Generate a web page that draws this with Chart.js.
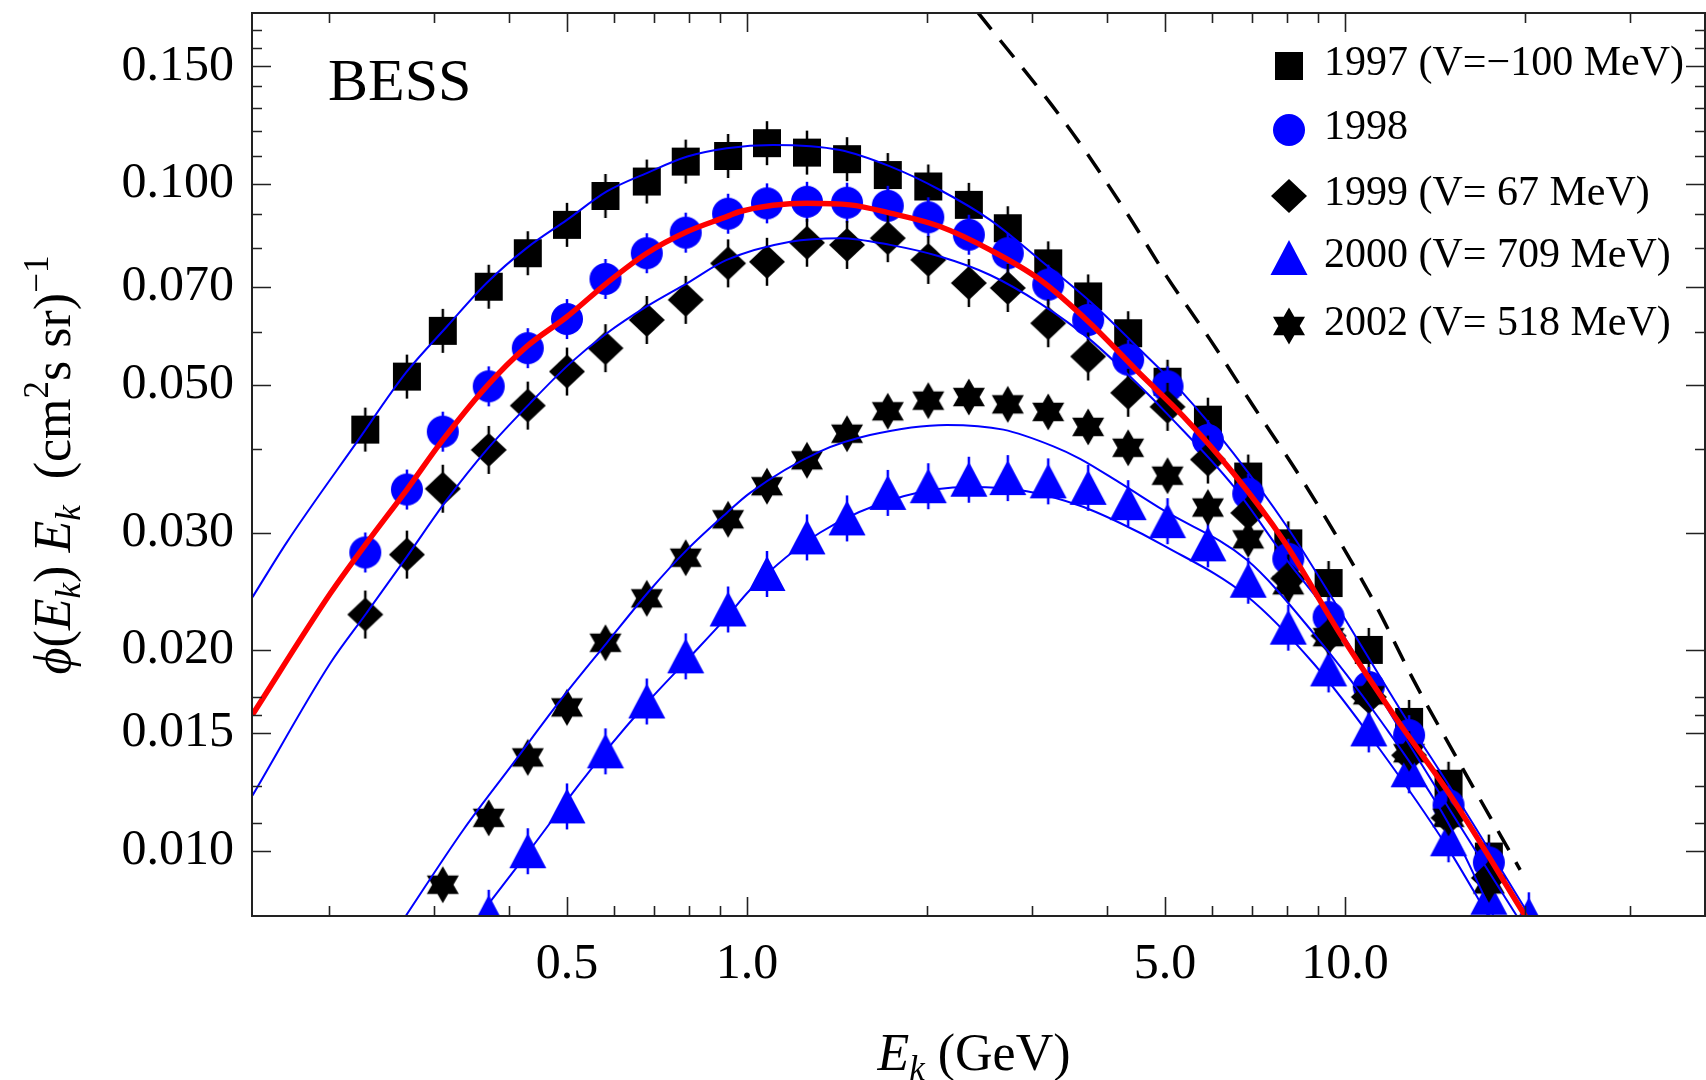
<!DOCTYPE html>
<html>
<head>
<meta charset="utf-8">
<script src="https://cdn.jsdelivr.net/npm/chart.js@4.4.1/dist/chart.umd.min.js"></script>
<style>
  html, body { margin: 0; padding: 0; background: #fff; overflow: hidden; }
  #wrap { width: 1706px; height: 1080px; position: relative; }
  #chart { display: block; }
</style>
</head>
<body>
<div id="wrap"><canvas id="chart"></canvas></div>
<script>
// BESS energy bins (GeV) and measured fluxes, null where a year has no point
const energy = [0.23, 0.27, 0.31, 0.37, 0.43, 0.50, 0.58, 0.68, 0.79, 0.93, 1.08, 1.26, 1.47, 1.72, 2.01,
  2.35, 2.73, 3.19, 3.72, 4.34, 5.05, 5.90, 6.89, 8.04, 9.39, 10.96, 12.8, 14.9, 17.4, 20.3];
const flux1997 = [0.0428, 0.0514, 0.0602, 0.0701, 0.0787, 0.0868, 0.0959, 0.1008, 0.1080, 0.1101, 0.1151, 0.1114,
  0.1089, 0.1031, 0.0991, 0.0930, 0.0858, 0.0760, 0.0678, 0.0597, 0.0505, 0.0443, 0.0364, 0.0289, 0.0252,
  0.0200, 0.0156, 0.0126, 0.0098, null];
const flux1998 = [0.0280, 0.0348, 0.0425, 0.0497, 0.0567, 0.0627, 0.0720, 0.0787, 0.0845, 0.0902, 0.0935, 0.0940,
  0.0937, 0.0927, 0.0891, 0.0839, 0.0787, 0.0706, 0.0625, 0.0545, 0.0497, 0.0413, 0.0343, 0.0274, 0.0224,
  0.0176, 0.0149, 0.0117, 0.0096, null];
const flux1999 = [0.0226, 0.0278, 0.0349, 0.0399, 0.0465, 0.0523, 0.0567, 0.0625, 0.0670, 0.0760, 0.0764, 0.0816,
  0.0810, 0.0829, 0.0769, 0.0710, 0.0698, 0.0618, 0.0551, 0.0486, 0.0463, 0.0386, 0.0321, 0.0256, 0.0210,
  0.0170, 0.0139, 0.0112, 0.0091, null];
const flux2000 = [null, null, null, 0.00807, 0.00998, 0.01165, 0.01409, 0.01674, 0.01956, 0.0230, 0.0260, 0.0295,
  0.0315, 0.0344, 0.0352, 0.0360, 0.0362, 0.0358, 0.0350, 0.0332, 0.0312, 0.0288, 0.0254, 0.0216, 0.0187,
  0.0152, 0.0132, 0.0104, 0.0085, 0.0080];
const flux2002 = [null, null, 0.00889, 0.0112, 0.0138, 0.0164, 0.0205, 0.0239, 0.0275, 0.0314, 0.0352, 0.0385,
  0.0422, 0.0456, 0.0473, 0.0479, 0.0467, 0.0455, 0.0432, 0.0402, 0.0365, 0.0327, 0.0293, 0.0250, 0.0209,
  0.0171, 0.0140, 0.0112, 0.0089, null];

// fitted curves
const fit1997E = [0.149, 0.170, 0.224, 0.269, 0.315, 0.367, 0.428, 0.500, 0.583, 0.680, 0.795, 0.925, 1.105, 1.431,
  1.735, 2.103, 2.550, 3.091, 3.748, 4.543, 5.30, 6.50, 8.00, 9.55, 12.36, 15.57, 20.5];
const fit1997 = [0.0240, 0.0290, 0.0413, 0.0521, 0.0611, 0.0710, 0.0801, 0.0883, 0.0974, 0.1038, 0.1099, 0.1131,
  0.1144, 0.1124, 0.1062, 0.0979, 0.0883, 0.0769, 0.0666, 0.0564, 0.0491, 0.0395, 0.0306, 0.0238, 0.0163,
  0.0118, 0.0079];
const fit1998E = [0.149, 0.201, 0.231, 0.270, 0.310, 0.367, 0.428, 0.500, 0.583, 0.680, 0.795, 0.925, 0.974, 1.259,
  1.487, 1.735, 2.103, 2.550, 3.091, 3.748, 4.543, 5.367, 6.508, 7.889, 9.86, 12.17, 15.01, 20.16];
const fit1998 = [0.0160, 0.0243, 0.0289, 0.0348, 0.0413, 0.0497, 0.0570, 0.0632, 0.0710, 0.0787, 0.0848, 0.0893,
  0.0909, 0.0935, 0.0930, 0.0904, 0.0863, 0.0796, 0.0718, 0.0618, 0.0519, 0.0448, 0.0368, 0.0292, 0.0210,
  0.0158, 0.0121, 0.0079];
const fit1999E = [0.149, 0.201, 0.231, 0.270, 0.315, 0.367, 0.434, 0.506, 0.583, 0.680, 0.795, 0.925, 1.181, 1.431,
  1.735, 2.103, 2.550, 3.091, 3.748, 4.543, 5.03, 6.508, 7.99, 9.55, 12.36, 14.99, 19.52];
const fit1999 = [0.0121, 0.0191, 0.0227, 0.0276, 0.0336, 0.0399, 0.0469, 0.0538, 0.0597, 0.0655, 0.0710, 0.0769,
  0.0819, 0.0829, 0.0810, 0.0778, 0.0730, 0.0662, 0.0584, 0.0497, 0.0453, 0.0352, 0.0273, 0.0222, 0.0152,
  0.0115, 0.0079];
const fit2000E = [0.3537, 0.4338, 0.5059, 0.583, 0.680, 0.795, 0.925, 1.012, 1.326, 1.826, 2.361, 2.937, 3.606,
  4.206, 4.970, 6.851, 8.855, 11.45, 14.80, 17.48];
const fit2000 = [0.0079, 0.01003, 0.01206, 0.01417, 0.01665, 0.01934, 0.0224, 0.0246, 0.0300, 0.0340, 0.0351,
  0.0346, 0.0329, 0.0310, 0.0287, 0.0241, 0.0191, 0.01417, 0.01015, 0.0079];
const fit2002E = [0.2668, 0.3356, 0.4068, 0.4932, 0.583, 0.6887, 0.795, 0.925, 1.012, 1.326, 1.606, 2.159, 2.684,
  3.254, 3.606, 4.206, 4.970, 6.851, 8.855, 11.45, 14.80, 17.82];
const fit2002 = [0.0079, 0.01075, 0.01353, 0.01703, 0.0205, 0.0246, 0.0283, 0.0321, 0.0344, 0.0397, 0.0420, 0.0435,
  0.0428, 0.0404, 0.0387, 0.0356, 0.0324, 0.0273, 0.0212, 0.0157, 0.0111, 0.0079];
const dashE = [2.43, 3.447, 4.317, 5.035, 5.950, 7.029, 8.41, 10.07, 11.30, 13.01, 15.78, 19.63];
const dashFlux = [0.181, 0.1216, 0.0904, 0.0726, 0.0584, 0.0464, 0.0364, 0.0279, 0.0232, 0.01805, 0.01322, 0.00936];

const legendLabels = ['1997 (V=\u2212100 MeV)', '1998', '1999 (V= 67 MeV)', '2000 (V= 709 MeV)', '2002 (V= 518 MeV)'];
const xMajor = [0.5, 1, 5, 10];
const xMinor = [0.2, 0.3, 0.4, 0.6, 0.7, 0.8, 0.9, 2, 3, 4, 6, 7, 8, 9, 20, 30];
const yMajor = [0.01, 0.015, 0.02, 0.03, 0.05, 0.07, 0.1, 0.15];
const yMinor = [0.011, 0.0125, 0.016, 0.017, 0.04, 0.06, 0.08, 0.09, 0.11, 0.12, 0.13, 0.14, 0.16, 0.17];

const BLUE = '#0000ff';
const SERIF = '"Liberation Serif", "Times New Roman", serif';

// marker glyphs, with a short vertical error stroke when bar > 0
function marker(shape, color, bar) {
  const c = document.createElement('canvas');
  c.width = 44; c.height = 56;
  const g = c.getContext('2d');
  const cx = 22, cy = 28;
  g.fillStyle = color;
  g.beginPath();
  if (shape === 'square') {
    g.rect(cx - 14, cy - 14, 28, 28);
  } else if (shape === 'circle') {
    g.arc(cx, cy, 16, 0, Math.PI * 2);
  } else if (shape === 'diamond') {
    g.moveTo(cx, cy - 17); g.lineTo(cx + 18, cy); g.lineTo(cx, cy + 17); g.lineTo(cx - 18, cy);
    g.closePath();
  } else if (shape === 'triangle') {
    g.moveTo(cx, cy - 18); g.lineTo(cx + 18.5, cy + 17); g.lineTo(cx - 18.5, cy + 17);
    g.closePath();
  } else if (shape === 'star') {
    const R = 18.5, r = R / Math.sqrt(3);
    for (let i = 0; i < 12; i++) {
      const a = -Math.PI / 2 + i * Math.PI / 6;
      const rad = i % 2 === 0 ? R : r;
      const px = cx + rad * Math.cos(a), py = cy + rad * Math.sin(a);
      if (i === 0) g.moveTo(px, py); else g.lineTo(px, py);
    }
    g.closePath();
  }
  g.fill();
  if (bar > 0) {
    g.strokeStyle = color;
    g.lineWidth = 2.5;
    g.beginPath();
    g.moveTo(cx, cy - bar); g.lineTo(cx, cy + bar);
    g.stroke();
  }
  return c;
}

const glyphs = [
  marker('square', '#000', 22), marker('circle', BLUE, 20), marker('diamond', '#000', 24),
  marker('triangle', BLUE, 23), marker('star', '#000', 0)
];
const legendGlyphs = [
  marker('square', '#000', 0), marker('circle', BLUE, 0), marker('diamond', '#000', 0),
  marker('triangle', BLUE, 0), marker('star', '#000', 0)
];

const pts = (xs, ys) => xs.map((x, i) => ({ x: x, y: ys[i] }));

function pointSet(values, i, order) {
  return {
    data: pts(energy, values),
    showLine: false,
    pointStyle: glyphs[i],
    pointRadius: 16,
    order: order,
    clip: 0
  };
}
function curve(xs, ys, color, width, order, dash) {
  return {
    data: pts(xs, ys),
    showLine: true,
    borderColor: color,
    borderWidth: width,
    borderDash: dash || [],
    pointRadius: 0,
    cubicInterpolationMode: 'monotone',
    order: order,
    clip: 0
  };
}

// inward frame ticks on all four sides
const framePlugin = {
  id: 'frame',
  afterDatasetsDraw(chart) {
    const { ctx, chartArea: a, scales } = chart;
    ctx.save();
    ctx.strokeStyle = '#222';
    ctx.lineWidth = 2;
    ctx.strokeRect(a.left, a.top, a.right - a.left, a.bottom - a.top);
    ctx.lineWidth = 1.6;
    ctx.beginPath();
    const xt = (v, len) => {
      const p = Math.round(scales.x.getPixelForValue(v)) + 0.5;
      ctx.moveTo(p, a.bottom); ctx.lineTo(p, a.bottom - len);
      ctx.moveTo(p, a.top); ctx.lineTo(p, a.top + len);
    };
    const yt = (v, len) => {
      const p = Math.round(scales.y.getPixelForValue(v)) + 0.5;
      ctx.moveTo(a.left, p); ctx.lineTo(a.left + len, p);
      ctx.moveTo(a.right, p); ctx.lineTo(a.right - len, p);
    };
    xMajor.forEach(v => xt(v, 19));
    xMinor.forEach(v => xt(v, 10));
    yMajor.forEach(v => yt(v, 19));
    yMinor.forEach(v => yt(v, 10));
    ctx.stroke();
    ctx.restore();
  }
};

// mixed italic / sub / superscript text pieces
function richText(ctx, parts, x, y, size) {
  const fonts = parts.map(p => (p.it ? 'italic ' : '') + Math.round(size * (p.s ? 0.68 : 1)) + 'px ' + SERIF);
  const widths = parts.map((p, i) => { ctx.font = fonts[i]; return ctx.measureText(p.t).width; });
  let cx = x - widths.reduce((s, w) => s + w, 0) / 2;
  parts.forEach((p, i) => {
    ctx.font = fonts[i];
    const dy = p.s === 'sub' ? size * 0.2 : p.s === 'sup' ? -size * 0.42 : 0;
    ctx.fillText(p.t, cx, y + dy);
    cx += widths[i];
  });
}

const textPlugin = {
  id: 'texts',
  afterDraw(chart) {
    const ctx = chart.ctx;
    ctx.save();
    ctx.fillStyle = '#000';
    ctx.textAlign = 'left';
    ctx.textBaseline = 'alphabetic';

    ctx.font = '60px ' + SERIF;
    ctx.fillText('BESS', 328, 100);

    const rows = [66, 130, 196, 258, 326];
    legendLabels.forEach((lab, i) => {
      const g = legendGlyphs[i];
      ctx.drawImage(g, 1289 - g.width / 2, rows[i] - g.height / 2);
      ctx.font = '42px ' + SERIF;
      ctx.fillText(lab, 1324, rows[i] + 9);
    });

    richText(ctx, [
      { t: 'E', it: true }, { t: 'k', it: true, s: 'sub' }, { t: ' (GeV)' }
    ], 974, 1070, 52);

    ctx.translate(70, 465);
    ctx.rotate(-Math.PI / 2);
    richText(ctx, [
      { t: '\u03d5', it: true }, { t: '(' }, { t: 'E', it: true }, { t: 'k', it: true, s: 'sub' }, { t: ') ' },
      { t: 'E', it: true }, { t: 'k', it: true, s: 'sub' }, { t: '  (cm' }, { t: '2', s: 'sup' },
      { t: 's sr)' }, { t: '\u22121', s: 'sup' }
    ], 0, 0, 52);
    ctx.restore();
  }
};

new Chart(document.getElementById('chart'), {
  type: 'scatter',
  data: {
    datasets: [
      pointSet(flux1997, 0, 20),
      pointSet(flux1998, 1, 19),
      pointSet(flux1999, 2, 18),
      pointSet(flux2000, 3, 17),
      pointSet(flux2002, 4, 16),
      curve(fit1997E, fit1997, BLUE, 2, 5),
      curve(fit1999E, fit1999, BLUE, 2, 5),
      curve(fit2000E, fit2000, BLUE, 2, 5),
      curve(fit2002E, fit2002, BLUE, 2, 5),
      curve(fit1998E, fit1998, '#ff0000', 5.5, 3),
      curve(dashE, dashFlux, '#000', 3.5, 2, [22, 14])
    ]
  },
  options: {
    responsive: true,
    maintainAspectRatio: false,
    animation: false,
    devicePixelRatio: 1,
    layout: { autoPadding: false, padding: { top: 13, right: 1, left: 0, bottom: 0 } },
    plugins: { legend: { display: false }, tooltip: { enabled: false } },
    scales: {
      x: {
        type: 'logarithmic',
        min: 0.1487,
        max: 40,
        grid: { display: false, drawTicks: false },
        border: { display: false },
        afterBuildTicks: s => { s.ticks = xMajor.map(v => ({ value: v })); },
        afterFit: s => { s.height = 164; s.paddingLeft = 0; s.paddingRight = 0; },
        ticks: {
          autoSkip: false,
          maxRotation: 0,
          padding: 19,
          color: '#000',
          font: { family: SERIF, size: 50 },
          callback: v => Number(v).toFixed(1)
        }
      },
      y: {
        type: 'logarithmic',
        min: 0.00798,
        max: 0.1804,
        grid: { display: false, drawTicks: false },
        border: { display: false },
        afterBuildTicks: s => { s.ticks = yMajor.map(v => ({ value: v })); },
        afterFit: s => { s.width = 252; s.paddingTop = 0; s.paddingBottom = 0; },
        ticks: {
          autoSkip: false,
          padding: 18,
          color: '#000',
          font: { family: SERIF, size: 50 },
          callback: v => Number(v).toFixed(3)
        }
      }
    }
  },
  plugins: [framePlugin, textPlugin]
});
</script>
</body>
</html>
